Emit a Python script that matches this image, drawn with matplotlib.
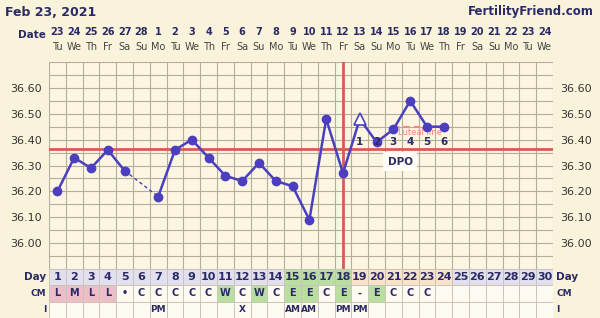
import matplotlib
matplotlib.use("Agg")
import matplotlib.pyplot as plt
from matplotlib.patches import Rectangle

# data
days = list(range(1, 31))
dates = ["23", "24", "25", "26", "27", "28", "1", "2", "3", "4", "5", "6", "7", "8", "9",
         "10", "11", "12", "13", "14", "15", "16", "17", "18", "19", "20", "21", "22", "23", "24"]
weekdays = ["Tu", "We", "Th", "Fr", "Sa", "Su", "Mo"] * 5
weekdays = weekdays[:30]
temps = [36.20, 36.33, 36.29, 36.36, 36.28, None, 36.18, 36.36, 36.40, 36.33,
         36.26, 36.24, 36.31, 36.24, 36.22, 36.09, 36.48, 36.27, 36.48, 36.39,
         36.44, 36.55, 36.45, 36.45]
open_days = [19]
coverline = 36.365
ovulation_day = 18
dpo_days = [19, 20, 21, 22, 23, 24]
luteal_days = [21, 24]
luteal_temp = 36.45
cm = ["L", "M", "L", "L", "•", "C", "C", "C", "C", "C", "W", "C", "W", "C", "E",
      "E", "C", "E", "-", "E", "C", "C", "C"]
intercourse = {7: "PM", 12: "X", 15: "AM", 16: "AM", 18: "PM", 19: "PM"}
fertile_days = [15, 16, 17, 18]

BG = "#FAF3DC"
NAVY = "#2B2A66"
BLUE = "#4B3FC0"
RED = "#D95B57"
GRID = "#B3AD9B"

fig = plt.figure(figsize=(6, 3.18), dpi=100, facecolor=BG)
ax = fig.add_axes([49 / 600, 1 - 269 / 318, 504 / 600, 207 / 318])
ax.set_facecolor("#FBF5E2")
ax.set_xlim(0.5, 30.5)
ax.set_ylim(35.90, 36.70)

for k in range(31):
    ax.axvline(0.5 + k, color=GRID, lw=0.8, zorder=1)
for k in range(17):
    ax.axhline(35.90 + 0.05 * k, color=GRID, lw=0.8, zorder=1)
for s in ax.spines.values():
    s.set_visible(False)

ticks = [36.00, 36.10, 36.20, 36.30, 36.40, 36.50, 36.60]
ax.set_yticks(ticks)
ax.set_yticklabels(["%.2f" % t for t in ticks])
ax.set_xticks([])
ax.tick_params(axis="y", length=0, labelsize=8, labelcolor="#333333",
               labelright=True, pad=5)

ax.axhline(coverline, color=RED, lw=2, zorder=3)
ax.axvline(ovulation_day, color=RED, lw=2, zorder=3)

# temperature line: solid segments, dashed across the missing day
xs = days[:len(temps)]
gap = temps.index(None)
ax.plot(xs[:gap], temps[:gap], color=BLUE, lw=1.8, zorder=4)
ax.plot([xs[gap - 1], xs[gap + 1]], [temps[gap - 1], temps[gap + 1]],
        color=BLUE, lw=1.0, ls=(0, (2.5, 2)), zorder=4)
ax.plot(xs[gap + 1:], temps[gap + 1:], color=BLUE, lw=1.8, zorder=4)
px = [x for x, t in zip(xs, temps) if t is not None and x not in open_days]
py = [t for x, t in zip(xs, temps) if t is not None and x not in open_days]
ax.plot(px, py, "o", color=BLUE, ms=6, zorder=5)
ax.plot(open_days, [temps[d - 1] for d in open_days], "^", mfc="white",
        mec=BLUE, mew=1.2, ms=8, zorder=5)

# luteal line and DPO
ax.plot(luteal_days, [luteal_temp] * 2, color="#F08A80", lw=1.5,
        ls=(0, (3, 2)), zorder=3.5)
ax.text(22.6, 36.428, "Luteal line", color="#F08A80", fontsize=6,
        ha="center", va="center", zorder=3.6)
for i, d in enumerate(dpo_days):
    ax.text(d, 36.392, str(i + 1), color=NAVY, fontsize=7.5, fontweight="bold",
            ha="center", va="center", zorder=6)
ax.text(21.4, 36.315, "DPO", color=NAVY, fontsize=7.5, fontweight="bold",
        ha="center", va="center", zorder=6,
        bbox=dict(boxstyle="square,pad=0.4", fc="#FFFDF5", ec="none"))

# header
fig.text(5 / 600, 1 - 12 / 318, "Feb 23, 2021", fontsize=9, fontweight="bold",
         color=NAVY, ha="left", va="center")
fig.text(594 / 600, 1 - 12 / 318, "FertilityFriend.com", fontsize=8.5,
         fontweight="bold", color=NAVY, ha="right", va="center")
trans = ax.get_xaxis_transform()
ax.text(0.3, (269 - 35) / 207, "Date", transform=trans, fontsize=7.5,
        fontweight="bold", color=NAVY, ha="right", va="center")
for d, lab, wd in zip(days, dates, weekdays):
    ax.text(d, (269 - 32) / 207, lab, transform=trans, fontsize=7,
            fontweight="bold", color=NAVY, ha="center", va="center")
    ax.text(d, (269 - 47) / 207, wd, transform=trans, fontsize=7,
            color="#444444", ha="center", va="center")

# observation table
tab = fig.add_axes([49 / 600, 0, 504 / 600, 49 / 318])
tab.set_xlim(0.5, 30.5)
tab.set_ylim(0, 3)
tab.axis("off")
for d in days:
    if d in fertile_days:
        day_fc = "#B9DFA0"
    elif 19 <= d <= 24:
        day_fc = "#F8E2C8"
    else:
        day_fc = "#E2E0EE"
    tab.add_patch(Rectangle((d - 0.5, 2), 1, 1, fc=day_fc, ec="#C9C5B8", lw=0.7))
    tab.text(d, 2.5, str(d), fontsize=8, fontweight="bold", color=NAVY,
             ha="center", va="center")
    c = cm[d - 1] if d <= len(cm) else ""
    if c in ("L", "M"):
        cm_fc = "#EDBDC8"
    elif c in ("W", "E"):
        cm_fc = "#B9DFA0"
    else:
        cm_fc = "#FDFAF0"
    tab.add_patch(Rectangle((d - 0.5, 1), 1, 1, fc=cm_fc, ec="#C9C5B8", lw=0.7))
    tab.text(d, 1.5, c, fontsize=7, fontweight="bold", color=NAVY,
             ha="center", va="center")
    tab.add_patch(Rectangle((d - 0.5, 0), 1, 1, fc="#FDFAF0", ec="#C9C5B8", lw=0.7))
    if d in intercourse:
        tab.text(d, 0.5, intercourse[d], fontsize=6.5, fontweight="bold",
                 color=NAVY, ha="center", va="center")

for y, lab, fs in [(2.5, "Day", 7.5), (1.5, "CM", 6.5), (0.5, "I", 6.5)]:
    tab.text(0.35, y, lab, fontsize=fs, fontweight="bold", color=NAVY,
             ha="right", va="center", clip_on=False)
    tab.text(30.7, y, lab, fontsize=fs, fontweight="bold", color=NAVY,
             ha="left", va="center", clip_on=False)

fig.savefig("out.png", dpi=100, facecolor=BG)
